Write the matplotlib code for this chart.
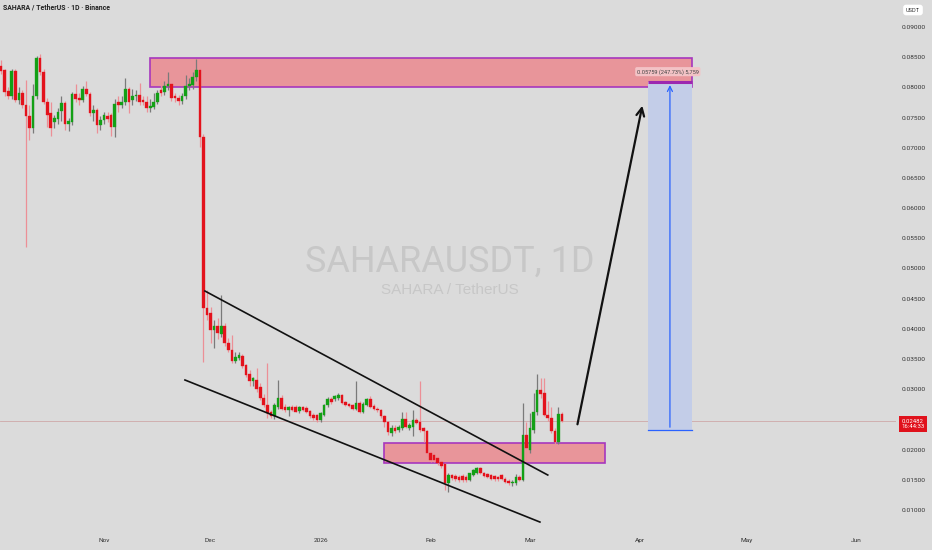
import matplotlib
matplotlib.use("Agg")
import matplotlib.pyplot as plt
import matplotlib.dates as mdates
from matplotlib import font_manager
from matplotlib.patches import Rectangle
import pandas as pd
import numpy as np

# ---------------- data (daily candles, SAHARA/USDT) ----------------
start_date = "2025-10-03"
opens = [
    # Oct 3 - Oct 31
    0.0836, 0.0829, 0.0794, 0.0785, 0.0827, 0.0779, 0.0791, 0.0771, 0.0753, 0.0733,
    0.0786, 0.0849, 0.0826, 0.0776, 0.0757, 0.0742, 0.0748, 0.0761, 0.0774, 0.0739,
    0.0743, 0.0789, 0.0782, 0.0779, 0.0797, 0.0789, 0.0757, 0.0763, 0.0738,
    # Nov
    0.0746, 0.0753, 0.0754, 0.0735, 0.0775, 0.0771, 0.0776, 0.0797, 0.0779, 0.0785,
    0.0788, 0.0779, 0.0776, 0.0765, 0.0768, 0.0776, 0.0795, 0.0792, 0.0803, 0.0805,
    0.0785, 0.0782, 0.0777, 0.0785, 0.0803, 0.0804, 0.0817, 0.0829, 0.0718, 0.0435,
    # Dec
    0.0426, 0.0398, 0.0404, 0.0392, 0.0405, 0.0377, 0.0365, 0.0347, 0.0351, 0.0355,
    0.0340, 0.0325, 0.0313, 0.0315, 0.0303, 0.0286, 0.0274, 0.0262, 0.0255, 0.0271,
    0.0285, 0.0271, 0.0266, 0.0270, 0.0271, 0.0264, 0.0270, 0.0269, 0.0264, 0.0257,
    0.0257,
    # Jan
    0.0249, 0.0257, 0.0274, 0.0284, 0.0284, 0.0285, 0.0290, 0.0279, 0.0276, 0.0274,
    0.0268, 0.0278, 0.0263, 0.0274, 0.0283, 0.0272, 0.0268, 0.0266, 0.0256, 0.0246,
    0.0227, 0.0235, 0.0233, 0.0235, 0.0250, 0.0235, 0.0238, 0.0249, 0.0246, 0.0235,
    0.0230,
    # Feb
    0.0194, 0.0191, 0.0186, 0.0180, 0.0176, 0.0144, 0.0158, 0.0156, 0.0155, 0.0156,
    0.0155, 0.0150, 0.0158, 0.0162, 0.0169, 0.0161, 0.0160, 0.0158, 0.0156, 0.0155,
    0.0158, 0.0152, 0.0148, 0.0144, 0.0144, 0.0155, 0.0150, 0.0225,
    # Mar 1 - 10
    0.0200, 0.0232, 0.0263, 0.0299, 0.0293, 0.0257, 0.0252, 0.0230, 0.0212, 0.0259,
]
highs = [
    0.0845, 0.0831, 0.0800, 0.0831, 0.0830, 0.0800, 0.0795, 0.0812, 0.0770, 0.0806,
    0.0852, 0.0856, 0.0830, 0.0783, 0.0775, 0.0755, 0.0766, 0.0785, 0.0778, 0.0750,
    0.0792, 0.0805, 0.0790, 0.0802, 0.0810, 0.0792, 0.0770, 0.0766, 0.0752,
    0.0760, 0.0760, 0.0758, 0.0780, 0.0785, 0.0785, 0.0815, 0.0800, 0.0797, 0.0795,
    0.0808, 0.0785, 0.0786, 0.0780, 0.0790, 0.0795, 0.0815, 0.0810, 0.0825, 0.0808,
    0.0790, 0.0787, 0.0790, 0.0820, 0.0815, 0.0825, 0.0847, 0.0832, 0.0722, 0.0465,
    0.0437, 0.0415, 0.0418, 0.0456, 0.0410, 0.0385, 0.0390, 0.0362, 0.0362, 0.0358,
    0.0341, 0.0332, 0.0321, 0.0335, 0.0310, 0.0292, 0.0343, 0.0266, 0.0278, 0.0316,
    0.0290, 0.0275, 0.0272, 0.0274, 0.0274, 0.0272, 0.0273, 0.0272, 0.0266, 0.0260,
    0.0259,
    0.0262, 0.0276, 0.0287, 0.0287, 0.0290, 0.0294, 0.0292, 0.0281, 0.0278, 0.0276,
    0.0313, 0.0281, 0.0279, 0.0286, 0.0289, 0.0275, 0.0271, 0.0268, 0.0258, 0.0248,
    0.0240, 0.0240, 0.0241, 0.0262, 0.0262, 0.0244, 0.0266, 0.0252, 0.0313, 0.0238,
    0.0232,
    0.0198, 0.0196, 0.0190, 0.0183, 0.0178, 0.0161, 0.0160, 0.0159, 0.0158, 0.0159,
    0.0158, 0.0162, 0.0168, 0.0171, 0.0171, 0.0163, 0.0162, 0.0160, 0.0158, 0.0157,
    0.0160, 0.0154, 0.0151, 0.0150, 0.0160, 0.0158, 0.0277, 0.0246,
    0.0260, 0.0293, 0.0326, 0.0318, 0.0318, 0.0280, 0.0271, 0.0235, 0.0271, 0.0263,
]
lows = [
    0.0822, 0.0785, 0.0780, 0.0780, 0.0776, 0.0772, 0.0766, 0.0536, 0.0713, 0.0725,
    0.0780, 0.0820, 0.0772, 0.0735, 0.0720, 0.0732, 0.0740, 0.0745, 0.0730, 0.0728,
    0.0738, 0.0776, 0.0770, 0.0775, 0.0786, 0.0752, 0.0745, 0.0725, 0.0730,
    0.0740, 0.0742, 0.0720, 0.0718, 0.0760, 0.0765, 0.0770, 0.0757, 0.0770, 0.0778,
    0.0770, 0.0770, 0.0760, 0.0760, 0.0764, 0.0772, 0.0785, 0.0788, 0.0795, 0.0778,
    0.0775, 0.0770, 0.0772, 0.0780, 0.0795, 0.0798, 0.0810, 0.0701, 0.0345, 0.0415,
    0.0376, 0.0368, 0.0384, 0.0386, 0.0371, 0.0362, 0.0343, 0.0343, 0.0348, 0.0335,
    0.0321, 0.0305, 0.0305, 0.0296, 0.0282, 0.0270, 0.0253, 0.0252, 0.0250, 0.0268,
    0.0265, 0.0262, 0.0255, 0.0264, 0.0262, 0.0260, 0.0264, 0.0260, 0.0253, 0.0249,
    0.0246,
    0.0246, 0.0255, 0.0270, 0.0276, 0.0280, 0.0282, 0.0275, 0.0272, 0.0270, 0.0265,
    0.0266, 0.0260, 0.0261, 0.0272, 0.0269, 0.0266, 0.0262, 0.0253, 0.0238, 0.0224,
    0.0222, 0.0228, 0.0229, 0.0233, 0.0236, 0.0232, 0.0222, 0.0242, 0.0229, 0.0213,
    0.0190,
    0.0180, 0.0180, 0.0174, 0.0170, 0.0133, 0.0130, 0.0150, 0.0148, 0.0147, 0.0147,
    0.0146, 0.0148, 0.0156, 0.0160, 0.0159, 0.0154, 0.0153, 0.0150, 0.0148, 0.0148,
    0.0150, 0.0145, 0.0141, 0.0140, 0.0142, 0.0148, 0.0148, 0.0183,
    0.0195, 0.0228, 0.0258, 0.0285, 0.0255, 0.0248, 0.0228, 0.0210, 0.0210, 0.0245,
]
closes = [
    0.0827, 0.0793, 0.0785, 0.0827, 0.0779, 0.0791, 0.0771, 0.0753, 0.0732, 0.0786,
    0.0849, 0.0826, 0.0776, 0.0754, 0.0733, 0.0749, 0.0760, 0.0774, 0.0739, 0.0744,
    0.0789, 0.0780, 0.0779, 0.0797, 0.0789, 0.0757, 0.0763, 0.0738, 0.0746,
    0.0754, 0.0748, 0.0735, 0.0772, 0.0771, 0.0776, 0.0797, 0.0776, 0.0785, 0.0788,
    0.0775, 0.0775, 0.0765, 0.0769, 0.0776, 0.0790, 0.0790, 0.0803, 0.0805, 0.0783,
    0.0782, 0.0777, 0.0786, 0.0803, 0.0805, 0.0817, 0.0829, 0.0718, 0.0435, 0.0423,
    0.0398, 0.0404, 0.0393, 0.0405, 0.0376, 0.0365, 0.0346, 0.0353, 0.0356, 0.0338,
    0.0324, 0.0313, 0.0318, 0.0301, 0.0286, 0.0274, 0.0260, 0.0255, 0.0274, 0.0285,
    0.0268, 0.0266, 0.0270, 0.0266, 0.0263, 0.0270, 0.0266, 0.0263, 0.0256, 0.0252,
    0.0249,
    0.0260, 0.0274, 0.0284, 0.0279, 0.0288, 0.0291, 0.0277, 0.0274, 0.0273, 0.0268,
    0.0278, 0.0263, 0.0276, 0.0284, 0.0271, 0.0268, 0.0265, 0.0256, 0.0246, 0.0229,
    0.0235, 0.0231, 0.0238, 0.0250, 0.0238, 0.0241, 0.0249, 0.0244, 0.0232, 0.0230,
    0.0194,
    0.0183, 0.0183, 0.0177, 0.0173, 0.0144, 0.0158, 0.0153, 0.0151, 0.0150, 0.0150,
    0.0150, 0.0161, 0.0166, 0.0169, 0.0161, 0.0156, 0.0155, 0.0152, 0.0151, 0.0151,
    0.0152, 0.0147, 0.0144, 0.0147, 0.0155, 0.0150, 0.0225, 0.0203,
    0.0235, 0.0263, 0.0299, 0.0292, 0.0257, 0.0252, 0.0230, 0.0212, 0.0259, 0.02482,
]
last_price = 0.02482
countdown = "16:44:33"

price_ticks = [0.010, 0.015, 0.020, 0.025, 0.030, 0.035, 0.040, 0.045, 0.050,
               0.055, 0.060, 0.065, 0.070, 0.075, 0.080, 0.085, 0.090]
month_ticks = ["2025-11-01", "2025-12-01", "2026-01-01", "2026-02-01",
               "2026-03-01", "2026-04-01", "2026-05-01", "2026-06-01"]
month_labels = ["Nov", "Dec", "2026", "Feb", "Mar", "Apr", "May", "Jun"]

# drawings (date, price anchors)
resistance_zone = ("2025-11-13 21:00", "2026-04-15 14:00", 0.08006, 0.08487)
support_zone = ("2026-01-18 21:00", "2026-03-22 02:00", 0.01778, 0.02108)
upper_trend = (("2025-11-29 10:00", 0.04627), ("2026-03-06 00:00", 0.01579))
lower_trend = (("2025-11-23 19:00", 0.03153), ("2026-03-03 19:00", 0.00800))
arrow_path = (("2026-03-14 05:00", 0.02374), ("2026-04-01 19:00", 0.07741))
proj_start, proj_end, proj_mid = "2026-04-03 05:00", "2026-04-15 14:00", "2026-04-09 10:00"
entry_price, target_price = 0.023247, 0.080837
proj_label = "0.05759 (247.73%) 5,759"

# ---------------- fonts ----------------
installed = {f.name for f in font_manager.fontManager.ttflist}
narrow = "Liberation Sans Narrow" if "Liberation Sans Narrow" in installed else "Roboto"
narrow_scale = 1.0 if narrow == "Liberation Sans Narrow" else 0.88
regular = "Liberation Sans" if "Liberation Sans" in installed else "DejaVu Sans"

# ---------------- figure ----------------
W, H = 932, 550
pane_right, pane_bottom = 896, 527
bg = "#dbdbdb"
fig = plt.figure(figsize=(W / 100, H / 100), dpi=100)
fig.patch.set_facecolor(bg)
ax = fig.add_axes([0, 1 - pane_bottom / H, pane_right / W, pane_bottom / H])
ax.set_facecolor(bg)

dates = pd.date_range(start_date, periods=len(opens), freq="D")
xd = mdates.date2num(dates)
o, h, l, c = map(np.array, (opens, highs, lows, closes))
up = c >= o
body_col = np.where(up, "#13a016", "#e3121c")
wick_col = np.where(up, "#7a7a7a", "#ec8f96")

x0 = mdates.date2num(pd.Timestamp("2025-10-01")) + 1.69
x1 = mdates.date2num(pd.Timestamp("2025-10-01")) + 254.1
ax.set_xlim(x0, x1)
ax.set_ylim(0.00718, 0.09447)

# watermark
ax.text(0.502, 0.503, "SAHARAUSDT, 1D", transform=ax.transAxes, ha="center", va="center",
        fontsize=29.5 * narrow_scale, color="#c7c7c7", zorder=0, family=narrow)
ax.text(0.502, 0.450, "SAHARA / TetherUS", transform=ax.transAxes, ha="center", va="center",
        fontsize=11, color="#c7c7c7", zorder=0, family=regular)


def tn(s):
    return mdates.date2num(pd.Timestamp(s))


# zones
for zs, ze, lo, hi in (resistance_zone, support_zone):
    ax.add_patch(Rectangle((tn(zs), lo), tn(ze) - tn(zs), hi - lo, facecolor="#e8959a",
                           edgecolor="#a737bd", lw=1.2, zorder=1))

# projection box
ax.add_patch(Rectangle((tn(proj_start), entry_price), tn(proj_end) - tn(proj_start),
                       target_price - entry_price, facecolor="#c3cde8", edgecolor="none", zorder=1.5))
ax.plot([tn(proj_start), tn(proj_end)], [target_price, target_price], color="#9c27b0", lw=2.2, zorder=3,
        solid_capstyle="butt")
ax.plot([tn(proj_start), tn(proj_end)], [entry_price, entry_price], color="#2962ff", lw=0.9, zorder=3)
ax.annotate("", xy=(tn(proj_mid), target_price), xytext=(tn(proj_mid), entry_price),
            arrowprops=dict(arrowstyle="->", color="#2962ff", lw=0.9, mutation_scale=9), zorder=3)
ax.text(tn(proj_mid) - 0.6, 0.0826, proj_label, ha="center", va="center", fontsize=4.6 * narrow_scale,
        color="#444444", family=narrow,
        bbox=dict(boxstyle="round,pad=0.3", fc="#f3c3c6", ec="none"), zorder=4)

# current price line
ax.axhline(last_price, color="#cfa8a8", lw=0.6, zorder=1)

# candles
ax.vlines(xd, l, h, colors=wick_col, lw=0.9, zorder=2)
bh = np.maximum(np.abs(c - o), 0.00008)
ax.bar(xd, bh, bottom=np.minimum(o, c), width=0.74, color=body_col, edgecolor=body_col,
       lw=0.25, zorder=2.5)

# trend lines
for (a, pa), (b, pb) in (upper_trend, lower_trend):
    ax.plot([tn(a), tn(b)], [pa, pb], color="#111111", lw=1.2, zorder=3)
(a, pa), (b, pb) = arrow_path
ax.annotate("", xy=(tn(b), pb), xytext=(tn(a), pa),
            arrowprops=dict(arrowstyle="->", color="#111111", lw=1.6, mutation_scale=14), zorder=3)

# axes
for s in ax.spines.values():
    s.set_visible(False)
ax.yaxis.tick_right()
ax.set_yticks(price_ticks)
ax.set_yticklabels(["" if abs(p - 0.025) < 1e-9 else f"{p:.5f}" for p in price_ticks],
                   fontsize=5.3 * narrow_scale, color="#333333", family=narrow)
for lab in ax.get_yticklabels():
    lab.set_horizontalalignment("center")
ax.tick_params(axis="y", length=0, pad=12.5)
ax.set_xticks([tn(m) for m in month_ticks])
ax.set_xticklabels(month_labels, fontsize=5.3 * narrow_scale, color="#333333", family=narrow)
ax.tick_params(axis="x", length=0, pad=8)

# header / labels
fig.text(3 / W, 1 - 8 / H, "SAHARA / TetherUS · 1D · Binance", fontsize=5.6 * narrow_scale,
         color="#222222", ha="left", va="center", fontweight="bold", family=narrow)
fig.text(913 / W, 1 - 10 / H, "USDT", fontsize=4.6 * narrow_scale, color="#333333", ha="center",
         va="center", family=narrow, bbox=dict(boxstyle="round,pad=0.5", fc="white", ec="none"))
fig.text(913 / W, 1 - 424 / H, f"{last_price:.5f}\n{countdown}", fontsize=4.9 * narrow_scale,
         color="white", ha="center", va="center", linespacing=1.1, family=narrow,
         bbox=dict(boxstyle="square,pad=0.45", fc="#e0121c", ec="none"))

fig.savefig("out.png", dpi=100, facecolor=bg)
